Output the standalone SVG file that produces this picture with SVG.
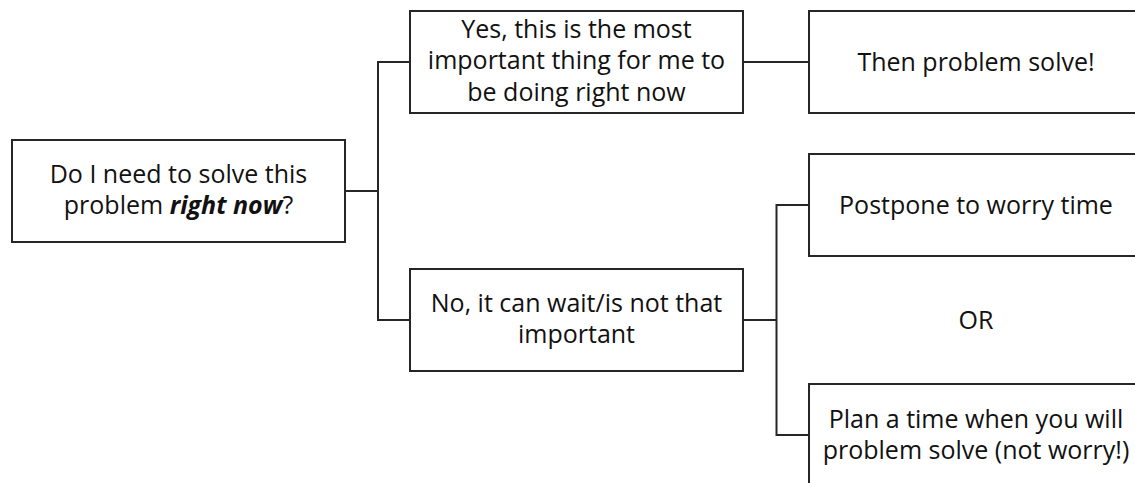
<svg xmlns="http://www.w3.org/2000/svg" width="1135" height="483" viewBox="0 0 1135 483">
<style>
.box{fill:#fff;stroke:#262626;stroke-width:2}
.conn{fill:none;stroke:#262626;stroke-width:2}
text{font-family:"Open Sans","Noto Sans","Liberation Sans",sans-serif;font-size:25px;fill:#111;text-anchor:middle}
.bi{font-weight:bold;font-style:italic}
</style>
<rect width="1135" height="483" fill="#fff"/>
<g id="connectors">
<path class="conn" d="M345,191 H378 M410,62 H378 V320 H410"/>
<path class="conn" d="M743,62 H809"/>
<path class="conn" d="M743,320 H776.5 M809,205 H776.5 V435 H809"/>
</g>
<g id="question">
<rect class="box" x="12" y="140" width="333" height="102"/>
<text x="178.5" y="183">Do I need to solve this</text>
<text x="178.5" y="214">problem <tspan class="bi">right now</tspan>?</text>
</g>
<g id="yes">
<rect class="box" x="410" y="11" width="333" height="102"/>
<text x="576.5" y="37.5">Yes, this is the most</text>
<text x="576.5" y="69">important thing for me to</text>
<text x="576.5" y="100.5">be doing right now</text>
</g>
<g id="no">
<rect class="box" x="410" y="269" width="333" height="102"/>
<text x="576.5" y="312">No, it can wait/is not that</text>
<text x="576.5" y="343">important</text>
</g>
<g id="solve">
<rect class="box" x="809" y="11" width="334" height="102"/>
<text x="976" y="70.5">Then problem solve!</text>
</g>
<g id="postpone">
<rect class="box" x="809" y="154" width="334" height="102"/>
<text x="976" y="213.5">Postpone to worry time</text>
</g>
<g id="or">
<text x="976" y="329">OR</text>
</g>
<g id="plan">
<rect class="box" x="809" y="384" width="334" height="102"/>
<text x="976" y="428">Plan a time when you will</text>
<text x="976" y="459">problem solve (not worry!)</text>
</g>
</svg>
